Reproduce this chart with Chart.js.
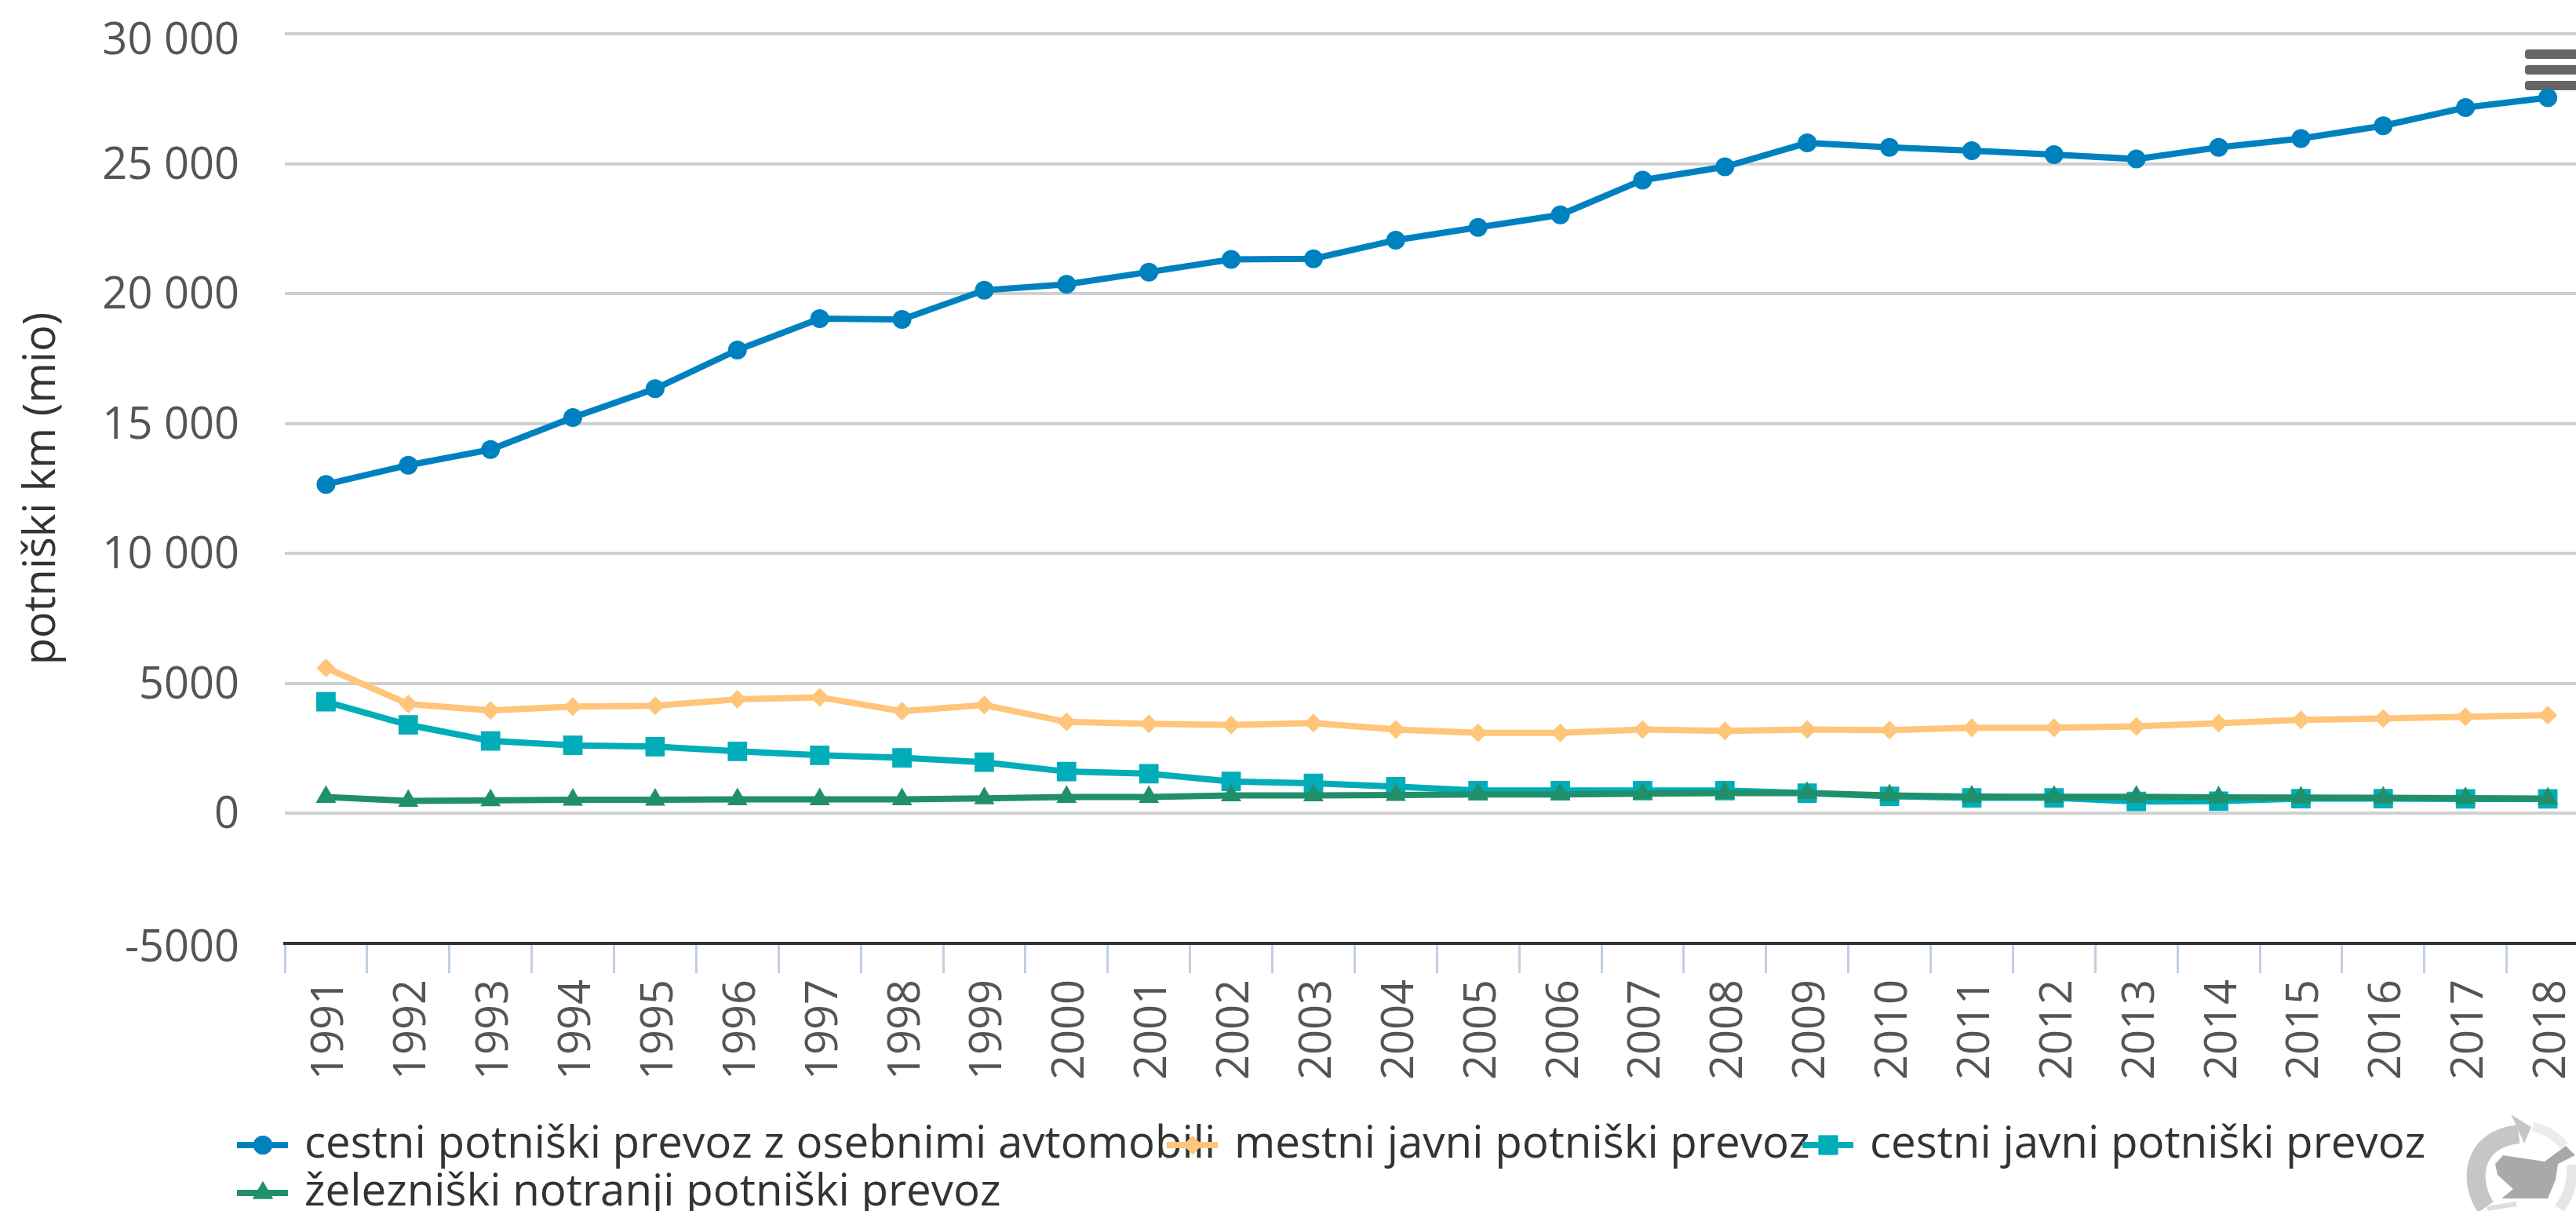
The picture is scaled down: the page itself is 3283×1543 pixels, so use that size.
<!DOCTYPE html>
<html>
<head>
<meta charset="utf-8">
<title>potniški km</title>
<script src="https://cdn.jsdelivr.net/npm/chart.js@4/dist/chart.umd.js"></script>
<style>
  html, body { margin: 0; padding: 0; background: #fff; overflow: hidden; }
  #wrap { position: relative; width: 3283px; height: 1543px; overflow: hidden; }
  #chart { position: absolute; left: 0; top: 0; }
  #logo { position: absolute; left: 3130px; top: 1405px; }
</style>
</head>
<body>
<div id="wrap">
  <canvas id="chart" width="3317" height="1543"></canvas>
  <svg id="logo" width="153" height="138" viewBox="3130 1405 153 138">
    <path d="M3168 1538 C3148 1510 3146 1452 3210 1445" fill="none" stroke="#c6c6c6" stroke-width="24"/>
    <path d="M3200 1420 L3226 1436 L3217 1457 L3206 1432 Z" fill="#c6c6c6"/>
    <path d="M3228 1436 Q3252 1440 3268 1460" fill="none" stroke="#ececec" stroke-width="12"/>
    <path d="M3278 1484 Q3280 1515 3262 1540" fill="none" stroke="#e6e6e6" stroke-width="14"/>
    <path d="M3170 1540 L3207 1534" fill="none" stroke="#dddddd" stroke-width="6"/>
    <path d="M3180 1483 L3190 1472 L3243 1480 L3270 1460 L3282 1472 L3260 1483 L3257 1503 L3247 1527 L3188 1527 L3203 1515 L3183 1497 Z" fill="#a9a9a9"/>
  </svg>
</div>
<script>
const years = ["1991","1992","1993","1994","1995","1996","1997","1998","1999","2000","2001","2002","2003","2004","2005","2006","2007","2008","2009","2010","2011","2012","2013","2014","2015","2016","2017","2018"];

const osebniAvto = [12660,13400,14000,15230,16340,17830,19040,19010,20130,20360,20830,21320,21340,22060,22550,23030,24370,24880,25800,25630,25500,25350,25180,25630,25970,26460,27160,27540];
const mestniJavni = [5600,4210,3960,4110,4140,4390,4470,3930,4170,3520,3450,3400,3480,3230,3100,3100,3230,3180,3230,3210,3300,3300,3350,3470,3600,3650,3720,3780];
const cestniJavni = [4300,3410,2790,2620,2570,2390,2240,2140,1970,1610,1530,1230,1160,1030,880,880,880,880,780,660,600,600,460,470,570,570,560,560];
const zelezniski = [630,480,500,530,530,540,540,540,580,630,630,690,690,710,730,730,760,780,780,690,650,640,640,620,610,600,590,570];

const FONT = "'Open Sans', sans-serif";

function series(label, data, color, pointStyle, pointRadius, order) {
  return {
    label, data, order, pointStyle, pointRadius,
    borderColor: color,
    backgroundColor: color,
    pointBorderColor: color,
    pointBackgroundColor: color,
    pointBorderWidth: 0,
    borderWidth: 8,
    tension: 0,
    fill: false,
  };
}

// hamburger sits under the lines, the blue end point overlaps it
const menuIcon = {
  id: "menuIcon",
  beforeDatasetsDraw(chart) {
    const ctx = chart.ctx;
    ctx.save();
    ctx.fillStyle = "#666666";
    [63, 83, 103].forEach((y) => {
      ctx.beginPath();
      ctx.roundRect(3218, y, 80, 12, 4);
      ctx.fill();
    });
    ctx.restore();
  },
};

// the labels sit a bit low in the original, the top and bottom ones more so
const yLabelShift = {
  id: "yLabelShift",
  beforeDraw(chart) {
    const s = chart.scales.y;
    s._labelItems = s._computeLabelItems(chart.chartArea);
    s._labelItems.forEach((item) => {
      const t = item.options.translation;
      const shift = item.label === "30 000" ? 10 : item.label === "-5000" ? 7 : 3;
      item.options.translation = [t[0], t[1] + shift];
    });
  },
};

// legend rows overlap in the original, the built in legend can't do that
const lineLegend = {
  id: "lineLegend",
  afterDraw(chart) {
    const ctx = chart.ctx;
    const spots = [[302, 1459], [1487, 1459], [2297, 1459], [302, 1520]];
    ctx.save();
    ctx.font = "56.5px " + FONT;
    ctx.textBaseline = "alphabetic";
    chart.data.datasets.forEach((ds, i) => {
      const [x, y] = spots[i];
      ctx.strokeStyle = ds.borderColor;
      ctx.fillStyle = ds.borderColor;
      ctx.lineWidth = 8;
      ctx.beginPath();
      ctx.moveTo(x, y);
      ctx.lineTo(x + 65, y);
      ctx.stroke();
      Chart.helpers.drawPoint(ctx, { pointStyle: ds.pointStyle, radius: ds.pointRadius, borderWidth: 0, rotation: 0 }, x + 33, y);
      ctx.fill();
      ctx.fillStyle = "#333333";
      ctx.fillText(ds.label, x + 86, y + 16);
    });
    ctx.restore();
  },
};

new Chart(document.getElementById("chart"), {
  type: "line",
  data: {
    labels: years,
    datasets: [
      series("cestni potniški prevoz z osebnimi avtomobili", osebniAvto, "#0081bf", "circle", 12, 3),
      series("mestni javni potniški prevoz", mestniJavni, "#ffc57a", "rectRot", 12, 2),
      series("cestni javni potniški prevoz", cestniJavni, "#00adb8", "rect", 17.5, 1),
      series("železniški notranji potniški prevoz", zelezniski, "#21906a", "triangle", 15, 0),
    ],
  },
  plugins: [menuIcon, yLabelShift, lineLegend],
  options: {
    responsive: false,
    animation: false,
    layout: { padding: { top: 43, left: 0, right: 0, bottom: 0 } },
    plugins: {
      legend: { display: false },
      tooltip: { enabled: false },
    },
    scales: {
      x: {
        type: "category",
        offset: true,
        afterFit: (a) => { a.height = 341; a.paddingLeft = 0; a.paddingRight = 0; },
        border: { color: "#333333", width: 4 },
        grid: {
          offset: true,
          drawOnChartArea: false,
          color: "#c0d0e0",
          lineWidth: 3,
          tickLength: 38,
        },
        ticks: {
          autoSkip: false,
          minRotation: 90,
          maxRotation: 90,
          padding: 8,
          labelOffset: 6,
          color: "#555555",
          font: { family: FONT, size: 56 },
        },
      },
      y: {
        min: -5000,
        max: 30000,
        afterFit: (a) => { a.width = 363; a.paddingTop = 0; a.paddingBottom = 0; },
        border: { display: false },
        grid: { color: "#d0d0d0", lineWidth: 4, drawTicks: false },
        ticks: {
          stepSize: 5000,
          padding: 58,
          color: "#555555",
          font: { family: FONT, size: 56 },
          callback: (v) => (Math.abs(v) >= 10000 ? String(v).replace(/(\d{3})$/, " $1") : String(v)),
        },
        title: {
          display: true,
          text: "potniški km (mio)",
          color: "#333333",
          padding: { top: 26, bottom: 0 },
          font: { family: FONT, size: 56, lineHeight: 1 },
        },
      },
    },
  },
});
</script>
</body>
</html>
